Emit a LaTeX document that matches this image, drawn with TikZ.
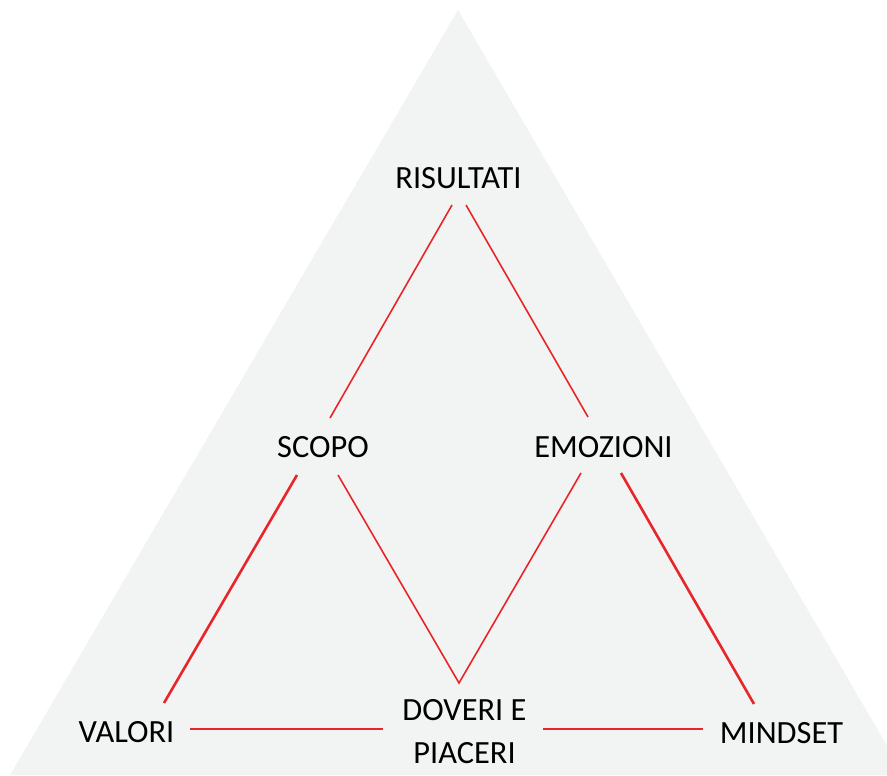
\documentclass[tikz,border=0pt]{standalone}
\usepackage{fontspec}
\setmainfont{Carlito}
\definecolor{trigrey}{HTML}{F2F3F3}
\definecolor{linkred}{HTML}{E8262A}
\begin{document}
\begin{tikzpicture}[x=0.5pt,y=-0.5pt,
    word/.style={font=\fontsize{16.2}{21.5}\selectfont, inner sep=0pt, align=center},
    link/.style={draw=linkred, line width=0.8pt},
    boldlink/.style={draw=linkred, line width=1.3pt}]
    \useasboundingbox (0,0) rectangle (887,775);
    \clip (0,0) rectangle (887,775);
    \fill[trigrey] (458,10) -- (10,775) -- (904,775) -- cycle;
    \node[word] (ris) at (458.5,178) {RISULTATI};
    \node[word] (scopo) at (323,447) {SCOPO};
    \node[word] (emo) at (603.5,447) {EMOZIONI};
    \node[word] (valori) at (126.5,732) {VALORI};
    \node[word] (doveri) at (464.5,731.5) {DOVERI E\\PIACERI};
    \node[word] (mindset) at (781.5,733) {MINDSET};
    \coordinate (vertex) at (459,683);
    \draw[link] ([shift={(-6.5,27)}]ris.center) -- ([shift={(7,-29)}]scopo.center);
    \draw[link] ([shift={(7.5,27)}]ris.center) -- ([shift={(-15.5,-30)}]emo.center);
    \draw[boldlink] ([shift={(-26,28)}]scopo.center) -- ([shift={(37.5,-29)}]valori.center);
    \draw[link] ([shift={(15,28)}]scopo.center) -- (vertex) -- ([shift={(-22.5,26)}]emo.center);
    \draw[boldlink] ([shift={(17.5,26)}]emo.center) -- ([shift={(-27.5,-29)}]mindset.center);
    \draw[boldlink] ([shift={(63.5,-3)}]valori.center) -- ([shift={(-81.5,-2.5)}]doveri.center);
    \draw[boldlink] ([shift={(78.5,-2.5)}]doveri.center) -- ([shift={(-78.5,-4)}]mindset.center);
\end{tikzpicture}
\end{document}
